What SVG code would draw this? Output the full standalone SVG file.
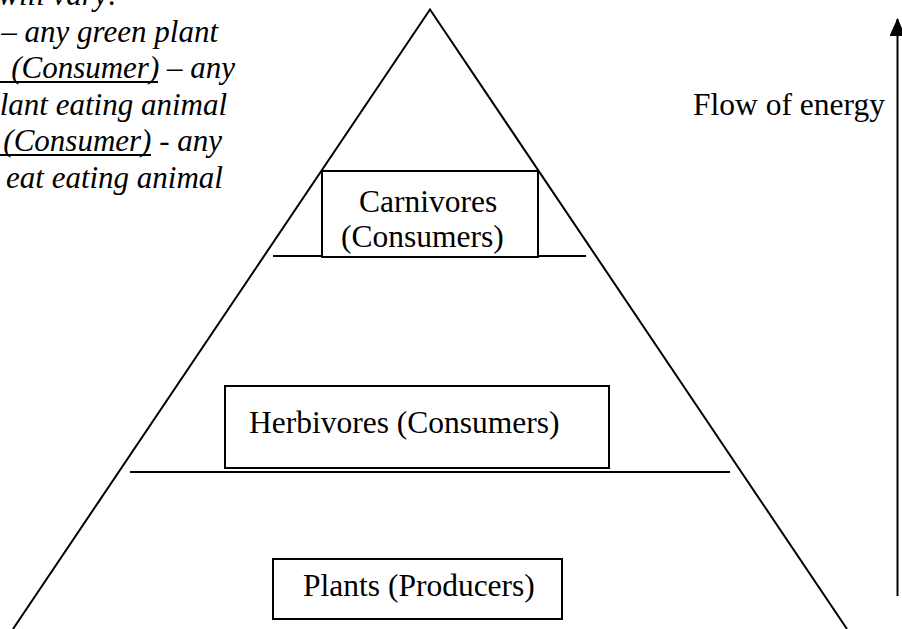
<svg xmlns="http://www.w3.org/2000/svg" width="902" height="629" viewBox="0 0 902 629">
  <defs>
    <style>
      .ln { stroke: #000; stroke-width: 2; fill: none; }
      .box { stroke: #000; stroke-width: 2; fill: #fff; }
      .lbl { font-family: "Liberation Serif", "Times New Roman", serif; font-size: 31.5px; fill: #000; }
      .note { font-family: "Liberation Serif", "DejaVu Serif", "Times New Roman", serif; font-size: 31px; font-style: italic; fill: #000; text-anchor: end; }
    </style>
    <marker id="arrowhead" markerWidth="18" markerHeight="16" refX="17" refY="8" orient="auto" markerUnits="userSpaceOnUse" viewBox="0 0 18 16">
      <path d="M0,0 L18,8 L0,16 Z" fill="#000"/>
    </marker>
  </defs>
  <rect width="902" height="629" fill="#fff"/>

  <g id="notes">
    <text class="note" x="118" y="5">will vary:</text>
    <text class="note" x="218" y="41.5">– any green plant</text>
    <text class="note" x="235" y="78">(Consumer) – any</text>
    <line x1="0" y1="82" x2="158" y2="82" stroke="#000" stroke-width="2"/>
    <text class="note" x="227" y="114.5">lant eating animal</text>
    <text class="note" x="222" y="151">(Consumer) - any</text>
    <line x1="0" y1="155" x2="151" y2="155" stroke="#000" stroke-width="2"/>
    <text class="note" x="223" y="187.5">eat eating animal</text>
  </g>

  <g id="pyramid">
    <polyline class="ln" points="13,629 430,9.5 847,629"/>
    <line class="ln" x1="273" y1="256" x2="586" y2="256"/>
    <line class="ln" x1="130" y1="472" x2="730" y2="472"/>
  </g>

  <g id="carnivores">
    <rect class="box" x="322" y="171" width="216" height="86"/>
    <text class="lbl" x="359" y="211.5">Carnivores</text>
    <text class="lbl" x="341" y="246.5">(Consumers)</text>
  </g>

  <g id="herbivores">
    <rect class="box" x="225" y="386" width="384" height="82"/>
    <text class="lbl" x="249" y="433">Herbivores (Consumers)</text>
  </g>

  <g id="plants">
    <rect class="box" x="273" y="559" width="289" height="60"/>
    <text class="lbl" x="303" y="596">Plants (Producers)</text>
  </g>

  <g id="energy-label">
    <text class="lbl" x="693" y="114.5">Flow of energy</text>
  </g>

  <g id="connectors">
    <line class="ln" x1="897.5" y1="596" x2="897.5" y2="19" marker-end="url(#arrowhead)"/>
  </g>
</svg>
